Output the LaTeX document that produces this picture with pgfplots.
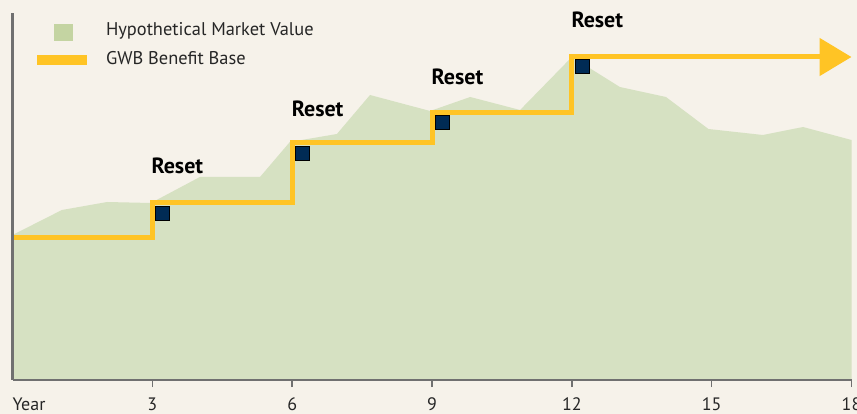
\documentclass[border=0pt]{standalone}
\usepackage{fontspec}
\setmainfont{PT Sans}
\usepackage{pgfplots}
\pgfplotsset{compat=1.18}
\usetikzlibrary{arrows.meta}
\definecolor{cream}{HTML}{F6F2EA}
\definecolor{areagreen}{HTML}{D6E1C2}
\definecolor{legendgreen}{HTML}{C4D4A2}
\definecolor{gwbyellow}{HTML}{FFC425}
\definecolor{navy}{HTML}{002B55}
\definecolor{axisgray}{HTML}{707070}
\begin{document}
\begin{tikzpicture}
\fill[cream] (0,0) rectangle (857bp,414bp);
\begin{axis}[
  at={(12.5bp,34bp)}, anchor=south west,
  width=839bp, height=367bp, scale only axis,
  xmin=0, xmax=18, ymin=0, ymax=367,
  clip=false, axis on top,
  axis x line=bottom, axis y line=left,
  axis line style={-, draw=axisgray, line width=2.5bp},
  xtick={3,6,...,18}, ytick=\empty,
  tick align=outside, major tick length=7bp,
  xtick style={draw=axisgray, line width=1.5bp},
  xticklabel style={anchor=base, yshift=-23.5bp, inner sep=0pt, font=\fontsize{18bp}{21bp}\selectfont, text=black!85},
  /pgf/number format/assume math mode=true,
  extra x ticks={0}, extra x tick labels={Year},
  extra x tick style={major tick length=0pt, xticklabel style={anchor=base west, yshift=-7bp}},
  legend style={at={(0.0292,0.975)}, anchor=north west, draw=none, fill=none,
    inner sep=0pt, outer sep=0pt, row sep=9.5bp,
    font=\fontsize{18.4bp}{22bp}\selectfont, text=black!85,
    nodes={inner sep=0pt}},
  legend cell align=left,
]
\addplot[fill=areagreen, draw=none,
  legend image code/.code={\path[draw=none, fill=none] (0,-4bp) rectangle (69bp,4bp);
    \fill[legendgreen, draw=none] (17bp,-12bp) rectangle (36bp,5bp);}]
  coordinates {
  (0,145) (1.06,170) (2.03,178) (2.97,177) (4.02,203) (5.31,203)
  (5.95,238) (6.96,246) (7.67,285) (8.96,269) (9.82,283) (10.89,270)
  (12,323) (13.03,293) (14.02,283) (14.93,251) (16.1,245) (16.96,253)
  (18,240)} \closedcycle;
\addlegendentry{Hypothetical Market Value}
\addplot[draw=gwbyellow, line width=5bp, line join=miter,
  -{Triangle[length=32bp,width=37bp]},
  legend image code/.code={\path[draw=none, fill=none] (0,-4bp) rectangle (69bp,4bp);
    \fill[gwbyellow, draw=none] (0,-6.5bp) rectangle (50bp,3.5bp);}]
  coordinates {(0,142) (3,142) (3,177) (6,177) (6,237) (9,237) (9,267.5)
    (12,267.5) (12,323) (18,323)};
\addlegendentry{GWB Benefit Base}
\addplot[forget plot, only marks, mark=square*, mark size=7bp,
  mark options={fill=navy, draw=none}]
  coordinates {(3.21,167) (6.21,227) (9.22,258) (12.22,314)};
\begin{scope}[every node/.style={anchor=base west, inner sep=0pt,
    font=\fontsize{22bp}{26bp}\selectfont\bfseries}]
\node at (axis cs:2.98,206) {Reset};
\node at (axis cs:5.99,263) {Reset};
\node at (axis cs:8.99,295) {Reset};
\node at (axis cs:11.99,352) {Reset};
\end{scope}
\end{axis}
\pgfresetboundingbox
\path[use as bounding box] (0,0) rectangle (857bp,414bp);
\end{tikzpicture}
\end{document}
